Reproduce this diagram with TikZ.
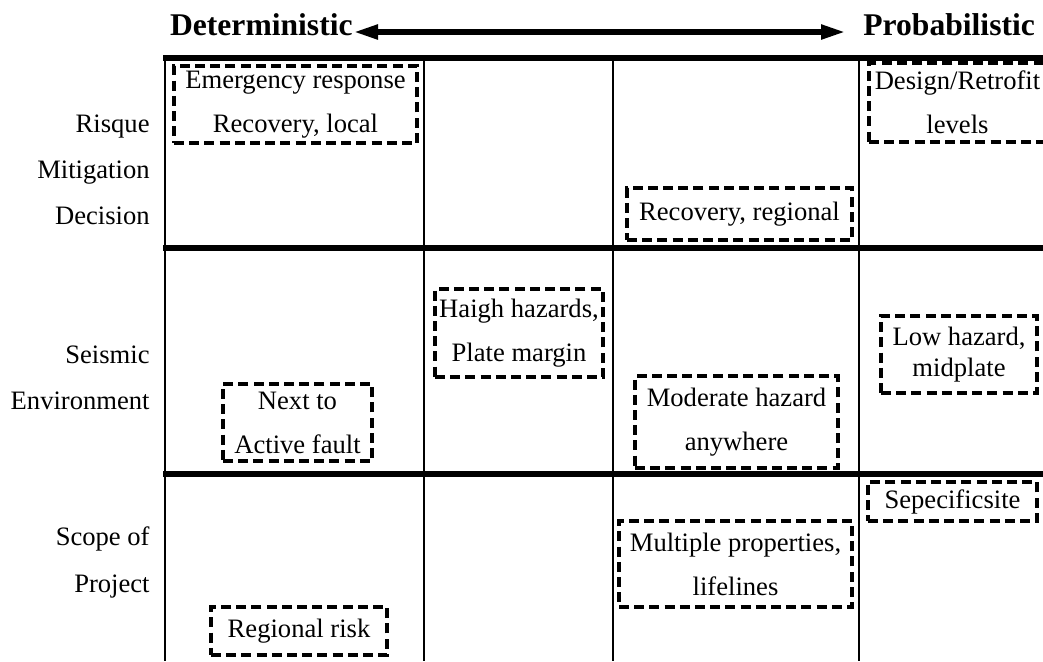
\documentclass[tikz,border=0pt]{standalone}
\usepackage{fontspec}
\setmainfont{Liberation Serif}
\usetikzlibrary{arrows.meta}
\begin{document}
\begin{tikzpicture}[x=0.5pt,y=-0.5pt,
  every node/.style={font=\fontsize{13.3}{22}\selectfont},
  title/.style={font=\fontsize{15.8}{18}\selectfont\bfseries, inner sep=0pt},
  rowlabel/.style={anchor=base east, inner sep=0pt},
  dbox/.style={draw, dashed, dash pattern=on 5pt off 2.6pt, line width=1.6pt, inner sep=0pt, align=center},
  grid/.style={line width=1pt},
  thick rule/.style={line width=3pt},
  bothway/.style={line width=2.6pt, {Triangle[length=12pt,width=7pt]}-{Triangle[length=12pt,width=7pt]}}
]
\useasboundingbox (0,0) rectangle (1043,661);
\fill[white] (0,0) rectangle (1043,661);

% title and arrow
\node[title, anchor=base east] (det) at (353,35) {Deterministic};
\node[title, anchor=base west] (prob) at (863,35) {Probabilistic};
\coordinate (al) at (354,32);
\coordinate (ar) at (845,32);
\draw[bothway] (al) -- (ar);

% grid
\foreach \x in {165,424,613,859} \draw[grid] (\x,58) -- (\x,661);
\draw[thick rule] (163,58) -- (1045,58);
\draw[thick rule] (163,248) -- (1045,248);
\draw[thick rule] (163,474) -- (1045,474);

% row labels
\node[rowlabel] (l1) at (150,132) {Risque};
\node[rowlabel] (l2) at (150,178) {Mitigation};
\node[rowlabel] (l3) at (150,224) {Decision};
\node[rowlabel] (l4) at (150,363) {Seismic};
\node[rowlabel] (l5) at (150,409) {Environment};
\node[rowlabel] (l6) at (150,545) {Scope of};
\node[rowlabel] (l7) at (150,592) {Project};

% dashed boxes
\node[dbox, minimum width=121.5pt, minimum height=38.5pt] (emerg) at (295.5,104.5) {Emergency response\\Recovery, local};
\node[dbox, minimum width=88.5pt, minimum height=39.5pt] (design) at (957.5,102.5) {Design/Retrofit\\levels};
\node[dbox, minimum width=112.5pt, minimum height=26pt] (recreg) at (739.5,214) {Recovery, regional};
\node[dbox, minimum width=84pt, minimum height=44pt] (haigh) at (519,333) {Haigh hazards,\\Plate margin};
\node[dbox, minimum width=78pt, minimum height=38.5pt, font=\fontsize{13.3}{15.5}\selectfont] (lowhaz) at (959,354.5) {Low hazard,\\midplate};
\node[dbox, minimum width=74.5pt, minimum height=38.5pt] (nextto) at (297.5,422.5) {Next to\\Active fault};
\node[dbox, minimum width=101.5pt, minimum height=46pt] (moder) at (736.5,422) {Moderate hazard\\anywhere};
\node[dbox, minimum width=84.5pt, minimum height=19.5pt] (sepec) at (952.5,501.5) {Sepecificsite};
\node[dbox, minimum width=116.5pt, minimum height=43pt] (multi) at (735.5,564) {Multiple properties,\\lifelines};
\node[dbox, minimum width=88pt, minimum height=24pt] (regrisk) at (299,631) {Regional risk};
\end{tikzpicture}
\end{document}
